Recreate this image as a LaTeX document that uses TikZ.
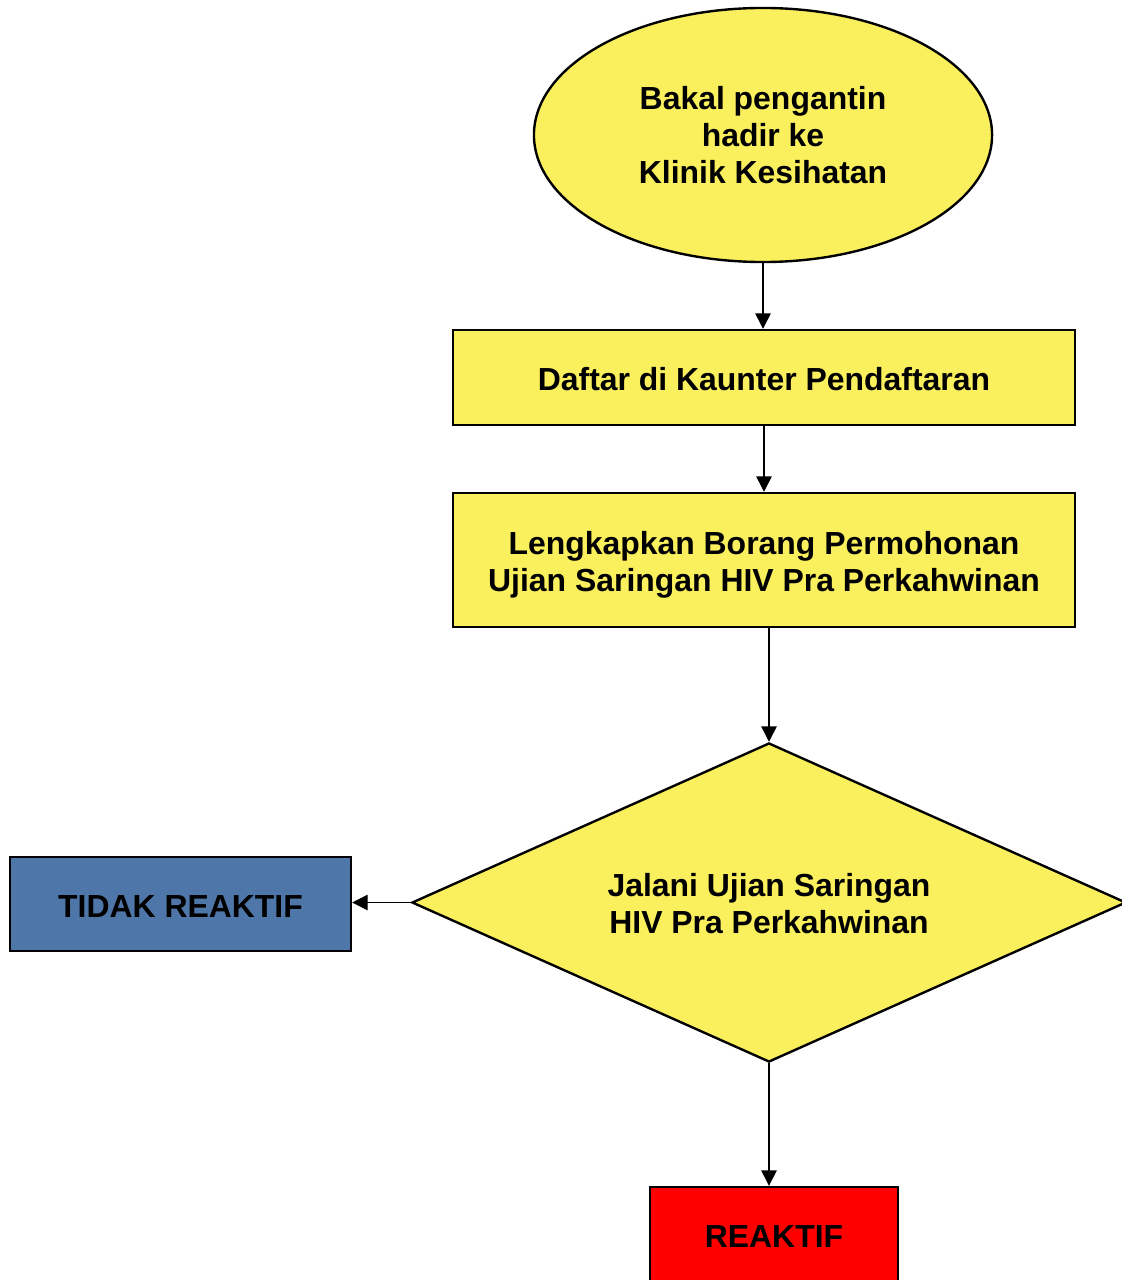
\documentclass[tikz,border=0pt]{standalone}
\usepackage{fontspec}
\setmainfont{Liberation Sans}
\usetikzlibrary{arrows.meta,shapes.geometric}
\definecolor{kuning}{HTML}{FAEF5C}
\definecolor{biru}{HTML}{4F76A8}
\definecolor{merah}{HTML}{FF0000}
\newcommand{\turun}[2]{\raisebox{-#1}[\height][\depth]{#2}}

\begin{document}
\begin{tikzpicture}[x=0.025cm, y=-0.025cm,
	every node/.style={font=\fontsize{22.7}{26.3}\selectfont\bfseries, align=center, inner sep=0pt},
	kotak/.style={draw, line width=1.7pt, rectangle},
	anak/.style={-{Triangle[width=11pt,length=11pt]}, line width=1pt}]
			%%%%% START %%%%%
			
			\clip (0, 0) rectangle (1122, 1280);
			
			\node[draw, line width=1.7pt, ellipse, fill=kuning, minimum width=11.45cm, minimum height=6.35cm] (mula) at (763, 135) {Bakal pengantin\\hadir ke\\Klinik Kesihatan};
			
			\node[kotak, fill=kuning, minimum width=15.55cm, minimum height=2.375cm] (daftar) at (764, 377.5) {\turun{1.4pt}{Daftar di Kaunter Pendaftaran}};
			\node[kotak, fill=kuning, minimum width=15.55cm, minimum height=3.35cm] (borang) at (764, 560) {\turun{4.3pt}{\begin{tabular}{@{}c@{}}Lengkapkan Borang Permohonan\\Ujian Saringan HIV Pra Perkahwinan\end{tabular}}};
			
			\node[draw, line width=1.7pt, diamond, shape aspect=2.24, fill=kuning, minimum width=17.85cm, minimum height=7.975cm] (ujian) at (769, 902.5) {\turun{3.6pt}{\begin{tabular}{@{}c@{}}Jalani Ujian Saringan\\HIV Pra Perkahwinan\end{tabular}}};
			
			\node[kotak, fill=biru, minimum width=8.525cm, minimum height=2.35cm] (tidak) at (180.5, 904) {\turun{2.1pt}{TIDAK REAKTIF}};
			\node[kotak, fill=merah, minimum width=6.2cm, minimum height=2.5cm] (reaktif) at (774, 1237) {REAKTIF};
			
			\draw[anak] (mula.south) -- (mula.south |- daftar.north);
			\draw[anak] (daftar.south) -- (borang.north);
			\draw[anak] (ujian.north |- borang.south) -- (ujian.north);
			\draw[anak] (ujian.west) -- (tidak.east |- ujian.west);
			\draw[anak] (ujian.south) -- (ujian.south |- reaktif.north);
			
			%%%%% END %%%%%
\end{tikzpicture}
\end{document}
